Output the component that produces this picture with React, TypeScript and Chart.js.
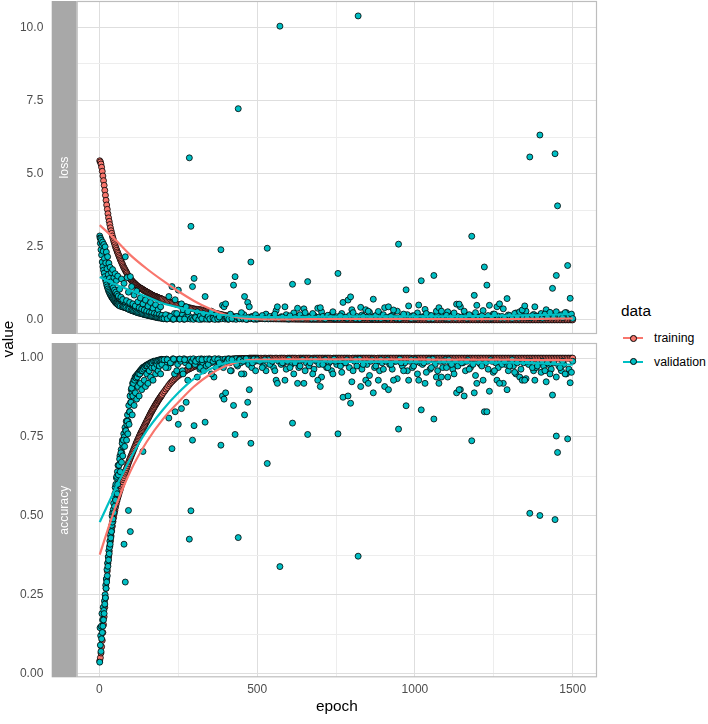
import React, { useEffect, useRef } from 'react';
import { Chart, registerables } from 'chart.js';

Chart.register(...registerables);

const FONT = "'Liberation Sans', Arial, Helvetica, sans-serif";
const TRAIN_COLOR = '#F8766D';
const VAL_COLOR = '#00BFC4';

// ---------- data ----------
const seriesNames = ['training', 'validation'];
const panelNames = ['loss', 'accuracy'];

const trainEpochs = [
  1, 3, 5, 7, 9, 11, 13, 15, 17, 19, 21, 23, 25, 27, 29, 31, 33, 35, 37, 39, 41, 43, 45, 47, 49, 51, 53, 55, 57, 59,
  61, 63, 65, 67, 69, 71, 73, 75, 77, 79, 81, 83, 85, 87, 89, 91, 93, 95, 97, 99,
  101, 103, 105, 107, 109, 111, 113, 115, 117, 119, 121, 123, 125, 127, 129, 131, 133, 135, 137, 139,
  141, 143, 145, 147, 149, 151, 153, 155, 157, 159, 161, 163, 165, 167, 169, 171, 173, 175, 177, 179,
  181, 183, 185, 187, 189, 191, 193, 195, 197, 199,
  203, 207, 211, 215, 219, 223, 227, 231, 235, 239, 243, 247, 251, 255, 259, 263, 267, 271, 275, 279,
  283, 287, 291, 295, 299, 303, 307, 311, 315, 319, 323, 327, 331, 335, 339, 343, 347, 351, 355, 359,
  363, 367, 371, 375, 379, 383, 387, 391, 395, 399, 403, 407, 411, 415, 419, 423, 427, 431, 435, 439,
  443, 447, 451, 455, 459, 463, 467, 471, 475, 479, 483, 487, 491, 495, 499, 503,
  507, 512, 517, 522, 527, 532, 537, 542, 547, 552, 557, 562, 567, 572, 577, 582, 587, 592, 597, 602,
  607, 612, 617, 622, 627, 632, 637, 642, 647, 652, 657, 662, 667, 672, 677, 682, 687, 692, 697, 702,
  707, 712, 717, 722, 727, 732, 737, 742, 747, 752, 757, 762, 767, 772, 777, 782, 787, 792, 797, 802,
  807, 812, 817, 822, 827, 832, 837, 842, 847, 852, 857, 862, 867, 872, 877, 882, 887, 892, 897, 902,
  907, 912, 917, 922, 927, 932, 937, 942, 947, 952, 957, 962, 967, 972, 977, 982, 987, 992, 997, 1002,
  1007, 1012, 1017, 1022, 1027, 1032, 1037, 1042, 1047, 1052, 1057, 1062, 1067, 1072, 1077, 1082, 1087, 1092, 1097, 1102,
  1107, 1112, 1117, 1122, 1127, 1132, 1137, 1142, 1147, 1152, 1157, 1162, 1167, 1172, 1177, 1182, 1187, 1192, 1197, 1202,
  1207, 1212, 1217, 1222, 1227, 1232, 1237, 1242, 1247, 1252, 1257, 1262, 1267, 1272, 1277, 1282, 1287, 1292, 1297, 1302,
  1307, 1312, 1317, 1322, 1327, 1332, 1337, 1342, 1347, 1352, 1357, 1362, 1367, 1372, 1377, 1382, 1387, 1392, 1397, 1402,
  1407, 1412, 1417, 1422, 1427, 1432, 1437, 1442, 1447, 1452, 1457, 1462, 1467, 1472, 1477, 1482, 1487, 1492, 1497, 1500,
];

const trainLoss = [
  5.44, 5.40, 5.33, 5.22, 5.08, 4.92, 4.76, 4.60, 4.43, 4.26, 4.09, 3.93, 3.78, 3.63, 3.49, 3.37, 3.26, 3.15, 3.05, 2.96,
  2.87, 2.79, 2.71, 2.64, 2.57, 2.50, 2.44, 2.38, 2.32, 2.27,
  2.21, 2.16, 2.10, 2.05, 2.00, 1.95, 1.90, 1.85, 1.80, 1.76,
  1.72, 1.68, 1.64, 1.60, 1.55, 1.51, 1.47, 1.44, 1.41, 1.39,
  1.36, 1.34, 1.31, 1.29, 1.27, 1.25, 1.23, 1.21, 1.19, 1.17,
  1.15, 1.14, 1.12, 1.11, 1.09, 1.08, 1.07, 1.06, 1.04, 1.03,
  1.01, 1.00, 0.99, 0.98, 0.96, 0.95, 0.94, 0.93, 0.91, 0.90,
  0.89, 0.88, 0.86, 0.85, 0.84, 0.83, 0.82, 0.81, 0.80, 0.80,
  0.79, 0.78, 0.77, 0.76, 0.75, 0.74, 0.73, 0.73, 0.72, 0.71,
  0.69, 0.67, 0.66, 0.64, 0.62, 0.61, 0.59, 0.58, 0.57, 0.56,
  0.54, 0.53, 0.52, 0.51, 0.49, 0.48, 0.46, 0.45, 0.44, 0.43,
  0.42, 0.41, 0.40, 0.39, 0.38, 0.37, 0.365, 0.36, 0.355, 0.35,
  0.34, 0.33, 0.32, 0.31, 0.30, 0.29, 0.28, 0.27, 0.26, 0.25,
  0.24, 0.23, 0.22, 0.21, 0.20, 0.19, 0.18, 0.17, 0.16, 0.15,
  0.14, 0.13, 0.125, 0.12, 0.115, 0.11, 0.105, 0.10, 0.095, 0.09,
  0.085, 0.08, 0.075, 0.07, 0.07, 0.068, 0.065, 0.06, 0.06, 0.058,
  0.055, 0.053, 0.05, 0.05, 0.049, 0.048,
  0.047, 0.046, 0.045, 0.044, 0.043, 0.042, 0.041, 0.040, 0.039, 0.038,
  0.037, 0.036, 0.036, 0.035, 0.034, 0.033, 0.033, 0.032, 0.031, 0.031,
  0.030, 0.029, 0.029, 0.028, 0.028, 0.027, 0.027, 0.026, 0.026, 0.025,
  0.025, 0.024, 0.024, 0.023, 0.023, 0.023, 0.022, 0.022, 0.021, 0.021,
  0.021, 0.020, 0.020, 0.020, 0.019, 0.019, 0.019, 0.018, 0.018, 0.018,
  0.017, 0.017, 0.017, 0.017, 0.016, 0.016, 0.016, 0.016, 0.015, 0.015,
  0.015, 0.015, 0.014, 0.014, 0.014, 0.014, 0.014, 0.013, 0.013, 0.013,
  0.013, 0.013, 0.012, 0.012, 0.012, 0.012, 0.012, 0.012, 0.011, 0.011,
  0.011, 0.011, 0.011, 0.011, 0.011, 0.010, 0.010, 0.010, 0.010, 0.010,
  0.010, 0.010, 0.010, 0.009, 0.009, 0.009, 0.009, 0.009, 0.009, 0.009,
  0.009, 0.009, 0.008, 0.008, 0.008, 0.008, 0.008, 0.008, 0.008, 0.008,
  0.008, 0.008, 0.008, 0.007, 0.007, 0.007, 0.007, 0.007, 0.007, 0.007,
  0.007, 0.007, 0.007, 0.007, 0.007, 0.007, 0.006, 0.006, 0.006, 0.006,
  0.006, 0.006, 0.006, 0.006, 0.006, 0.006, 0.006, 0.006, 0.006, 0.006,
  0.006, 0.006, 0.005, 0.005, 0.005, 0.005, 0.005, 0.005, 0.005, 0.005,
  0.005, 0.005, 0.005, 0.005, 0.005, 0.005, 0.005, 0.005, 0.005, 0.005,
  0.005, 0.005, 0.005, 0.005, 0.005, 0.004, 0.004, 0.004, 0.004, 0.004,
  0.004, 0.004, 0.004, 0.004, 0.004, 0.004, 0.004, 0.004, 0.004, 0.004,
  0.004, 0.004, 0.004, 0.004, 0.004, 0.004, 0.004, 0.004, 0.004, 0.004,
  0.004, 0.004, 0.004, 0.004, 0.004, 0.004, 0.004, 0.004, 0.004, 0.004,
];

const trainAcc = [
  0.040, 0.050, 0.065, 0.085, 0.105, 0.130, 0.155, 0.180, 0.210, 0.240, 0.270, 0.300, 0.325, 0.350, 0.370,
  0.388, 0.404, 0.420, 0.436, 0.452, 0.467, 0.482, 0.495, 0.507, 0.517, 0.527, 0.537, 0.546, 0.553, 0.560,
  0.567, 0.574, 0.580, 0.587, 0.594, 0.600, 0.608, 0.615, 0.621, 0.628,
  0.635, 0.641, 0.647, 0.653, 0.659, 0.665, 0.671, 0.676, 0.681, 0.686,
  0.691, 0.696, 0.701, 0.706, 0.711, 0.716, 0.721, 0.726, 0.731, 0.735,
  0.740, 0.744, 0.749, 0.753, 0.758, 0.762, 0.766, 0.770, 0.774, 0.778,
  0.782, 0.786, 0.790, 0.794, 0.798, 0.802, 0.806, 0.810, 0.814, 0.818,
  0.822, 0.826, 0.830, 0.833, 0.837, 0.840, 0.844, 0.847, 0.851, 0.854,
  0.857, 0.860, 0.864, 0.867, 0.870, 0.873, 0.876, 0.879, 0.882, 0.885,
  0.891, 0.896, 0.902, 0.907, 0.913, 0.918, 0.923, 0.927, 0.931, 0.935,
  0.939, 0.942, 0.945, 0.948, 0.951, 0.953, 0.956, 0.958, 0.961, 0.963,
  0.965, 0.967, 0.969, 0.971, 0.973, 0.975, 0.977, 0.978, 0.980, 0.981,
  0.982, 0.983, 0.984, 0.985, 0.986, 0.987, 0.988, 0.989, 0.990, 0.990,
  0.991, 0.991, 0.992, 0.992, 0.993, 0.993, 0.994, 0.994, 0.995, 0.995,
  0.996, 0.996, 0.997, 0.997, 0.997, 0.997, 0.998, 0.998, 0.998, 0.998,
  0.999, 0.999, 0.999, 0.999, 0.999, 0.999, 0.999, 0.999, 1.000, 1.000,
  1.000, 1.000, 1.000, 1.000, 1.000, 1.000,
  0.999, 1.000, 0.999, 1.000, 1.000, 0.999, 1.000, 1.000, 1.000, 0.999,
  1.000, 1.000, 0.999, 1.000, 1.000, 1.000, 1.000, 0.999, 1.000, 1.000,
  1.000, 1.000, 1.000, 1.000, 0.999, 1.000, 1.000, 1.000, 1.000, 1.000,
  1.000, 1.000, 1.000, 0.999, 1.000, 1.000, 1.000, 1.000, 1.000, 1.000,
  1.000, 1.000, 1.000, 1.000, 1.000, 1.000, 0.999, 1.000, 1.000, 1.000,
  1.000, 1.000, 1.000, 1.000, 1.000, 1.000, 1.000, 1.000, 0.999, 1.000,
  1.000, 1.000, 1.000, 1.000, 1.000, 1.000, 1.000, 1.000, 1.000, 1.000,
  1.000, 1.000, 1.000, 1.000, 0.999, 1.000, 1.000, 1.000, 1.000, 1.000,
  1.000, 1.000, 1.000, 1.000, 1.000, 1.000, 1.000, 1.000, 1.000, 1.000,
  1.000, 1.000, 1.000, 1.000, 1.000, 1.000, 1.000, 0.999, 1.000, 1.000,
  1.000, 1.000, 1.000, 1.000, 1.000, 1.000, 1.000, 1.000, 1.000, 1.000,
  1.000, 1.000, 1.000, 1.000, 1.000, 1.000, 1.000, 1.000, 1.000, 1.000,
  1.000, 1.000, 1.000, 1.000, 1.000, 1.000, 1.000, 1.000, 1.000, 1.000,
  1.000, 1.000, 1.000, 1.000, 1.000, 1.000, 1.000, 1.000, 1.000, 1.000,
  1.000, 1.000, 1.000, 1.000, 1.000, 1.000, 1.000, 1.000, 1.000, 1.000,
  1.000, 1.000, 1.000, 1.000, 1.000, 1.000, 1.000, 1.000, 1.000, 1.000,
  1.000, 1.000, 1.000, 1.000, 1.000, 1.000, 1.000, 1.000, 1.000, 1.000,
  1.000, 1.000, 1.000, 1.000, 1.000, 1.000, 1.000, 1.000, 1.000, 1.000,
  1.000, 1.000, 1.000, 1.000, 1.000, 1.000, 1.000, 1.000, 1.000, 1.000,
  1.000, 1.000, 1.000, 1.000, 1.000, 1.000, 1.000, 1.000, 1.000, 1.000,
];

// validation epochs: dense cloud near the main trend
const valDenseEpochs = [
  61, 63, 65, 67, 69, 71, 73, 75, 77, 79, 81, 83, 85, 87, 89, 91, 93, 95, 97, 99,
  101, 103, 105, 107, 109, 111, 113, 115, 117, 119, 121, 123, 125, 127, 129, 131, 133, 135, 137, 139,
  141, 143, 145, 147, 149, 151, 153, 155, 157, 159, 161, 163, 165, 167, 169, 171, 173, 175, 177, 179,
  181, 183, 185, 187, 189, 191, 193, 195, 197, 199,
  203, 208, 213, 218, 223, 228, 233, 238, 243, 248,
  253, 258, 263, 268, 273, 278, 283, 288, 293, 298,
  303, 308, 313, 318, 323, 328, 333, 338, 343, 348,
  353, 358, 363, 368, 373, 378, 383, 388, 393, 398,
  403, 408, 413, 418, 423, 428, 433, 438, 443, 448,
  453, 458, 463, 468, 473, 478, 483, 488, 493, 498,
  512, 520, 528, 536, 544, 552, 560, 568, 576, 584,
  592, 600, 608, 616, 624, 632, 640, 648, 656, 664,
  672, 680, 688, 696, 704, 712, 720, 728, 736, 744,
  752, 760, 768, 776, 784, 792, 800, 808, 816, 824,
  832, 840, 848, 856, 864, 872, 880, 888, 896, 904,
  912, 920, 928, 936, 944, 952, 960, 968, 976, 984,
  992, 1000, 1008, 1016, 1024, 1032, 1040, 1048, 1056, 1064,
  1072, 1080, 1088, 1096, 1104, 1112, 1120, 1128, 1136, 1144,
  1152, 1160, 1168, 1176, 1184, 1192, 1200, 1208, 1216, 1224,
  1232, 1240, 1248, 1256, 1264, 1272, 1280, 1288, 1296, 1304,
  1312, 1320, 1328, 1336, 1344, 1352, 1360, 1368, 1376, 1384,
  1392, 1400, 1408, 1416, 1424, 1432, 1440, 1448, 1456, 1464,
  1472, 1480, 1488, 1496,
];

const valDenseLoss = [
  0.52, 0.58, 0.50, 0.62, 0.48, 0.55, 0.46, 0.60, 0.44, 0.50,
  0.43, 0.56, 0.41, 0.47, 0.39, 0.52, 0.37, 0.43, 0.35, 0.48,
  0.34, 0.40, 0.32, 0.45, 0.31, 0.36, 0.29, 0.41, 0.28, 0.33,
  0.26, 0.38, 0.25, 0.30, 0.24, 0.34, 0.23, 0.27, 0.21, 0.31,
  0.20, 0.25, 0.19, 0.28, 0.18, 0.22, 0.17, 0.25, 0.16, 0.20,
  0.15, 0.22, 0.14, 0.18, 0.13, 0.19, 0.12, 0.16, 0.11, 0.17,
  0.10, 0.14, 0.09, 0.15, 0.08, 0.12, 0.08, 0.13, 0.07, 0.10,
  0.04, 0.10, 0.03, 0.15, 0.05, 0.08, 0.02, 0.22, 0.04, 0.12,
  0.03, 0.06, 0.18, 0.02, 0.09, 0.04, 0.14, 0.03, 0.07, 0.02,
  0.11, 0.04, 0.05, 0.16, 0.02, 0.08, 0.03, 0.12, 0.05, 0.02,
  0.09, 0.04, 0.20, 0.03, 0.06, 0.02, 0.10, 0.04, 0.13, 0.03,
  0.05, 0.02, 0.08, 0.15, 0.03, 0.06, 0.02, 0.11, 0.04, 0.07,
  0.03, 0.18, 0.05, 0.02, 0.09, 0.04, 0.12, 0.03, 0.06, 0.02,
  0.06, 0.12, 0.20, 0.04, 0.09, 0.15, 0.32, 0.05, 0.11, 0.08,
  0.18, 0.03, 0.10, 0.24, 0.06, 0.14, 0.05, 0.38, 0.09, 0.12,
  0.04, 0.16, 0.07, 0.10, 0.28, 0.05, 0.13, 0.08, 0.19, 0.04,
  0.11, 0.06, 0.22, 0.09, 0.05, 0.15, 0.35, 0.07, 0.12, 0.04,
  0.17, 0.08, 0.10, 0.26, 0.05, 0.13, 0.06, 0.20, 0.09, 0.42,
  0.05, 0.11, 0.16, 0.07, 0.30, 0.04, 0.12, 0.09, 0.18, 0.06,
  0.14, 0.05, 0.24, 0.08, 0.11, 0.36, 0.06, 0.15, 0.04, 0.10,
  0.20, 0.07, 0.13, 0.05, 0.28, 0.09, 0.16, 0.06, 0.12, 0.45,
  0.08, 0.18, 0.05, 0.14, 0.10, 0.25, 0.06, 0.11, 0.32, 0.07,
  0.15, 0.05, 0.20, 0.09, 0.13, 0.06, 0.38, 0.10, 0.17, 0.08,
  0.12, 0.24, 0.06, 0.16, 0.09, 0.30, 0.11, 0.07, 0.19, 0.14,
  0.08, 0.22, 0.12, 0.35, 0.10, 0.16, 0.09, 0.28, 0.13, 0.18,
  0.11, 0.25, 0.15, 0.20,
];

const valDenseAcc = [
  0.66, 0.64, 0.69, 0.67, 0.71, 0.70, 0.74, 0.72, 0.76, 0.75,
  0.78, 0.77, 0.80, 0.79, 0.82, 0.80, 0.85, 0.83, 0.88, 0.86,
  0.90, 0.89, 0.92, 0.90, 0.93, 0.92, 0.94, 0.93, 0.945, 0.94,
  0.95, 0.945, 0.955, 0.95, 0.96, 0.955, 0.965, 0.96, 0.97, 0.965,
  0.972, 0.968, 0.975, 0.97, 0.978, 0.975, 0.98, 0.978, 0.982, 0.98,
  0.985, 0.982, 0.986, 0.984, 0.988, 0.985, 0.99, 0.987, 0.99, 0.988,
  0.992, 0.99, 0.993, 0.991, 0.994, 0.992, 0.995, 0.993, 0.996, 0.994,
  0.995, 0.985, 0.997, 0.97, 0.99, 0.985, 0.998, 0.95, 0.995, 0.98,
  0.997, 0.99, 0.96, 0.998, 0.985, 0.995, 0.975, 0.997, 0.99, 0.998,
  0.98, 0.995, 0.99, 0.965, 0.998, 0.985, 0.997, 0.975, 0.99, 0.998,
  0.985, 0.995, 0.94, 0.997, 0.99, 0.998, 0.98, 0.995, 0.97, 0.997,
  0.99, 0.998, 0.985, 0.96, 0.997, 0.99, 0.998, 0.975, 0.995, 0.985,
  0.997, 0.95, 0.99, 0.998, 0.98, 0.995, 0.97, 0.997, 0.99, 0.998,
  0.99, 0.975, 0.96, 0.995, 0.985, 0.97, 0.93, 0.99, 0.98, 0.985,
  0.965, 0.997, 0.98, 0.95, 0.99, 0.97, 0.995, 0.92, 0.985, 0.975,
  0.995, 0.965, 0.99, 0.98, 0.94, 0.995, 0.97, 0.985, 0.96, 0.997,
  0.98, 0.99, 0.955, 0.985, 0.995, 0.97, 0.925, 0.99, 0.975, 0.997,
  0.965, 0.985, 0.98, 0.945, 0.995, 0.97, 0.99, 0.96, 0.985, 0.91,
  0.995, 0.98, 0.965, 0.99, 0.935, 0.997, 0.975, 0.985, 0.96, 0.99,
  0.97, 0.995, 0.95, 0.985, 0.98, 0.92, 0.99, 0.965, 0.997, 0.98,
  0.96, 0.99, 0.97, 0.995, 0.94, 0.985, 0.965, 0.99, 0.975, 0.90,
  0.985, 0.96, 0.995, 0.97, 0.98, 0.945, 0.99, 0.98, 0.93, 0.985,
  0.965, 0.995, 0.955, 0.985, 0.97, 0.99, 0.92, 0.98, 0.96, 0.985,
  0.975, 0.95, 0.99, 0.965, 0.985, 0.935, 0.98, 0.99, 0.96, 0.97,
  0.985, 0.955, 0.975, 0.925, 0.98, 0.965, 0.985, 0.94, 0.975, 0.96,
  0.98, 0.95, 0.965, 0.955,
];

// validation epochs: main scatter incl. outliers
const valEpochs = [
  1, 2, 3, 4, 5, 6, 7, 8, 9, 10, 11, 12, 13, 14, 15, 16, 17, 18, 19, 20,
  21, 22, 23, 24, 25, 26, 27, 28, 29, 30, 31, 32, 33, 34, 35, 36, 37, 38, 39, 40,
  41, 42, 43, 44, 45, 46, 47, 48, 49, 50, 51, 52, 53, 54, 55, 56, 57, 58, 59, 60,
  62, 64, 66, 68, 70, 72, 74, 76, 78, 80, 82, 84, 86, 88, 90, 92, 94, 96, 98, 100,
  102, 104, 106, 108, 110, 112, 114, 116, 118, 120, 122, 124, 126, 128, 130, 132, 134, 136, 138, 140,
  142, 144, 146, 148, 150, 152, 154, 156, 158, 160, 162, 164, 166, 168, 170, 172, 174, 176, 178, 180,
  182, 184, 186, 188, 190, 192, 194, 196, 198, 200,
  205, 210, 215, 220, 225, 230, 235, 240, 245, 250, 255, 260, 265, 270, 275, 280, 285, 290, 295, 300,
  305, 310, 315, 320, 325, 330, 335, 340, 345, 350, 355, 360, 365, 370, 375, 380, 385, 390, 395, 400,
  405, 410, 415, 420, 425, 430, 435, 440, 445, 450, 455, 460, 465, 470, 475, 480, 485, 490, 495, 500,
  508, 516, 524, 532, 540, 548, 556, 564, 572, 580,
  588, 596, 604, 612, 620, 628, 636, 644, 652, 660,
  668, 676, 684, 692, 700, 708, 716, 724, 732, 740,
  748, 756, 764, 772, 780, 788, 796, 804, 812, 820,
  828, 836, 844, 852, 860, 868, 876, 884, 892, 900,
  908, 916, 924, 932, 940, 948, 956, 964, 972, 980,
  988, 996, 1004, 1012, 1020, 1028, 1036, 1044, 1052, 1060,
  1068, 1076, 1084, 1092, 1100, 1108, 1116, 1124, 1132, 1140,
  1148, 1156, 1164, 1172, 1180, 1188, 1196, 1204, 1212, 1220,
  1228, 1236, 1244, 1252, 1260, 1268, 1276, 1284, 1292, 1300,
  1308, 1316, 1324, 1332, 1340, 1348, 1356, 1364, 1372, 1380,
  1388, 1396, 1404, 1412, 1420, 1428, 1436, 1444, 1448, 1452,
  1460, 1468, 1476, 1484, 1492, 1500,
];

const valLoss = [
  2.87, 2.80, 2.62, 2.78, 2.40, 2.72, 2.22, 2.55, 1.98, 2.66,
  1.82, 2.35, 1.70, 2.58, 1.60, 2.10, 1.48, 2.50, 1.38, 1.95,
  1.30, 2.32, 1.20, 1.75, 1.13, 2.16, 1.06, 1.55, 1.00, 1.94,
  0.95, 1.42, 0.90, 1.80, 0.86, 1.30, 0.82, 1.62, 0.78, 1.18,
  0.75, 1.72, 0.72, 1.10, 0.69, 1.45, 0.66, 1.02, 0.63, 1.58,
  0.60, 0.95, 0.58, 1.35, 0.56, 0.88, 0.54, 1.50, 0.52, 0.82,
  0.49, 1.05, 0.47, 0.78, 1.40, 0.45, 0.70, 0.44, 1.25, 0.43,
  2.16, 0.41, 0.66, 1.45, 0.38, 0.95, 0.36, 0.60, 1.48, 0.33,
  1.14, 0.32, 0.55, 0.30, 0.85, 0.29, 0.48, 0.27, 0.99, 0.25,
  0.62, 0.24, 0.42, 0.23, 0.75, 0.22, 0.38, 0.21, 0.55, 0.19,
  0.34, 0.18, 0.68, 0.17, 0.30, 0.16, 0.47, 0.15, 0.26, 0.14,
  0.60, 0.13, 0.25, 0.12, 0.40, 0.11, 0.22, 0.10, 0.52, 0.09,
  0.20, 0.08, 0.35, 0.07, 0.18, 0.07, 0.45, 0.06, 0.16, 0.05,
  0.05, 0.18, 0.04, 0.80, 0.12, 1.14, 0.03, 0.69, 0.22, 1.02,
  0.03, 0.55, 0.35, 0.03, 0.45, 0.28, 5.54, 3.20, 1.14, 1.42,
  0.08, 0.28, 0.02, 0.14, 0.05, 0.22, 0.80, 0.03, 0.12, 0.04,
  0.30, 0.06, 0.02, 0.18, 0.04, 0.10, 2.40, 0.50, 0.45, 0.55,
  0.08, 0.03, 0.20, 0.05, 1.19, 1.48, 0.12, 7.22, 0.04, 0.25,
  0.06, 0.80, 0.02, 0.60, 0.45, 1.98, 0.10, 0.03, 0.18, 0.05,
  0.08, 0.15, 0.04, 2.45, 0.12, 0.06, 0.20, 0.45, 10.04, 0.10,
  0.45, 0.05, 0.14, 1.22, 0.08, 0.40, 0.18, 0.06, 0.25, 1.31,
  0.10, 0.22, 0.05, 0.40, 0.42, 0.12, 0.04, 0.16, 0.08, 0.28,
  0.06, 1.59, 0.14, 0.60, 0.09, 0.68, 0.79, 0.25, 0.05, 10.39,
  0.43, 0.12, 0.35, 0.30, 0.07, 0.71, 0.15, 0.29, 0.05, 0.18,
  0.08, 0.45, 0.12, 0.34, 0.06, 2.59, 0.10, 0.20, 1.03, 0.48,
  0.05, 0.14, 0.07, 0.51, 1.34, 0.10, 0.22, 0.05, 0.15, 1.52,
  0.30, 0.42, 0.30, 0.08, 0.16, 0.05, 0.12, 0.24, 0.54, 0.54,
  0.10, 0.30, 0.06, 0.18, 2.86, 0.84, 0.50, 0.09, 0.14, 1.81,
  1.19, 0.50, 0.07, 0.20, 0.45, 0.55, 0.12, 0.06, 0.73, 0.15,
  0.05, 0.22, 0.10, 0.28, 0.34, 0.48, 0.08, 5.57, 0.15, 0.45,
  0.12, 6.32, 0.06, 0.20, 0.09, 0.26, 1.08, 5.68, 1.52, 3.90,
  0.14, 0.08, 0.25, 1.86, 0.74, 0.05,
];

const valAcc = [
  0.036, 0.145, 0.09, 0.12, 0.07, 0.15, 0.11, 0.19, 0.13, 0.17,
  0.15, 0.21, 0.17, 0.20, 0.19, 0.23, 0.22, 0.25, 0.24, 0.28,
  0.27, 0.30, 0.29, 0.33, 0.31, 0.35, 0.34, 0.37, 0.36, 0.39,
  0.38, 0.40, 0.42, 0.41, 0.44, 0.43, 0.46, 0.45, 0.47, 0.50,
  0.48, 0.51, 0.49, 0.52, 0.54, 0.51, 0.56, 0.53, 0.57, 0.59,
  0.55, 0.60, 0.58, 0.62, 0.625, 0.57, 0.64, 0.60, 0.66, 0.63,
  0.66, 0.68, 0.64, 0.70, 0.67, 0.73, 0.69, 0.74, 0.41, 0.72,
  0.29, 0.77, 0.74, 0.80, 0.76, 0.517, 0.79, 0.83, 0.45, 0.86,
  0.905, 0.82, 0.88, 0.92, 0.85, 0.93, 0.89, 0.937, 0.87, 0.94,
  0.91, 0.95, 0.88, 0.95, 0.92, 0.96, 0.90, 0.96, 0.704, 0.965,
  0.93, 0.97, 0.91, 0.975, 0.95, 0.975, 0.92, 0.98, 0.96, 0.98,
  0.94, 0.985, 0.97, 0.985, 0.93, 0.99, 0.97, 0.99, 0.95, 0.99,
  0.98, 0.99, 0.96, 0.993, 0.975, 0.993, 0.95, 0.995, 0.98, 0.995,
  0.995, 0.97, 0.995, 0.81, 0.985, 0.713, 0.997, 0.83, 0.96, 0.79,
  0.997, 0.84, 0.95, 0.995, 0.86, 0.93, 0.426, 0.516, 0.74, 0.786,
  0.99, 0.94, 0.997, 0.97, 0.995, 0.96, 0.797, 0.997, 0.98, 0.995,
  0.95, 0.99, 0.998, 0.97, 0.995, 0.985, 0.724, 0.88, 0.87, 0.89,
  0.99, 0.997, 0.96, 0.995, 0.85, 0.758, 0.98, 0.431, 0.995, 0.95,
  0.99, 0.82, 0.998, 0.86, 0.90, 0.73, 0.985, 0.997, 0.96, 0.995,
  0.99, 0.97, 0.995, 0.666, 0.98, 0.99, 0.96, 0.92, 0.339, 0.985,
  0.93, 0.99, 0.97, 0.794, 0.985, 0.92, 0.975, 0.995, 0.96, 0.758,
  0.985, 0.95, 0.995, 0.93, 0.91, 0.98, 0.995, 0.97, 0.99, 0.95,
  0.99, 0.76, 0.975, 0.876, 0.985, 0.88, 0.857, 0.96, 0.995, 0.372,
  0.91, 0.98, 0.93, 0.92, 0.99, 0.89, 0.975, 0.93, 0.995, 0.965,
  0.99, 0.90, 0.98, 0.93, 0.99, 0.775, 0.985, 0.96, 0.849, 0.93,
  0.995, 0.975, 0.99, 0.93, 0.836, 0.985, 0.955, 0.995, 0.97, 0.807,
  0.94, 0.92, 0.94, 0.99, 0.97, 0.995, 0.98, 0.95, 0.89, 0.90,
  0.985, 0.88, 0.99, 0.965, 0.738, 0.89, 0.92, 0.985, 0.975, 0.83,
  0.83, 0.895, 0.99, 0.96, 0.93, 0.92, 0.98, 0.99, 0.90, 0.975,
  0.995, 0.955, 0.985, 0.94, 0.93, 0.93, 0.99, 0.508, 0.97, 0.93,
  0.975, 0.501, 0.99, 0.96, 0.985, 0.95, 0.883, 0.488, 0.753, 0.701,
  0.97, 0.99, 0.95, 0.744, 0.922, 0.99,
];

// smoothed trend
const smoothEpochs = [1, 50, 100, 150, 200, 250, 300, 350, 400, 450, 500, 600, 700, 800, 900, 1000, 1100, 1200, 1300, 1400, 1500];
const trainLossSmooth = [3.24, 2.75, 2.2, 1.75, 1.35, 0.98, 0.65, 0.38, 0.18, 0.07, 0.03, 0.02, 0.03, 0.04, 0.04, 0.03, 0.03, 0.03, 0.03, 0.04, 0.05];
const valLossSmooth = [1.47, 1.22, 1.0, 0.79, 0.57, 0.43, 0.31, 0.22, 0.16, 0.12, 0.1, 0.1, 0.11, 0.12, 0.12, 0.12, 0.12, 0.13, 0.15, 0.17, 0.2];
const trainAccSmooth = [0.377, 0.525, 0.645, 0.735, 0.805, 0.86, 0.91, 0.948, 0.975, 0.99, 0.995, 0.996, 0.996, 0.996, 0.996, 0.996, 0.995, 0.995, 0.995, 0.994, 0.994];
const valAccSmooth = [0.48, 0.585, 0.685, 0.77, 0.835, 0.89, 0.935, 0.965, 0.985, 0.99, 0.99, 0.99, 0.989, 0.988, 0.988, 0.987, 0.987, 0.986, 0.986, 0.983, 0.979];

// axes
const xMajorTicks = [0, 500, 1000, 1500];
const xTickLabels = ['0', '500', '1000', '1500'];
const xMinorTicks = [250, 750, 1250];
const lossMajorTicks = [0, 2.5, 5, 7.5, 10];
const lossTickLabels = ['0.0', '2.5', '5.0', '7.5', '10.0'];
const lossMinorTicks = [1.25, 3.75, 6.25, 8.75];
const accMajorTicks = [0, 0.25, 0.5, 0.75, 1];
const accTickLabels = ['0.00', '0.25', '0.50', '0.75', '1.00'];
const accMinorTicks = [0.125, 0.375, 0.625, 0.875];
const epochLimits = [-72, 1577];
const lossLimits = [-0.48, 10.9];
const accLimits = [-0.012, 1.048];

// ---------- helpers ----------
const toPoints = (xs: number[], ys: number[]) => xs.map((x, i) => ({ x, y: ys[i] }));

const findIdx = (arr: number[], v: number) => arr.findIndex((a) => Math.abs(a - v) < 1e-6);

const panelDecor = {
  id: 'panelDecor',
  afterDraw(chart: any, _args: any, opts: any) {
    const { ctx, chartArea: a } = chart;
    ctx.save();
    ctx.fillStyle = '#A8A8A8';
    ctx.fillRect(a.left - 25, a.top, 25, a.bottom - a.top);
    ctx.strokeStyle = '#BDBDBD';
    ctx.lineWidth = 1.2;
    ctx.strokeRect(a.left + 0.5, a.top + 0.5, a.right - a.left - 1, a.bottom - a.top - 1);
    ctx.translate(a.left - 12.5, (a.top + a.bottom) / 2);
    ctx.rotate(-Math.PI / 2);
    ctx.fillStyle = '#FFFFFF';
    ctx.font = `12.3px ${FONT}`;
    ctx.textAlign = 'center';
    ctx.textBaseline = 'middle';
    ctx.fillText(opts.text, 0, 0);
    ctx.restore();
  },
};

function gridOpts(major: number[]) {
  return {
    drawTicks: false,
    color: (c: any) => (c.tick && findIdx(major, c.tick.value) >= 0 ? '#DEDEDE' : '#EDEDED'),
    lineWidth: 1,
  };
}

function makeConfig(p: {
  trainVals: number[];
  valDenseVals: number[];
  valVals: number[];
  trainSmooth: number[];
  valSmooth: number[];
  yLimits: number[];
  yMajor: number[];
  yMinor: number[];
  yLabels: string[];
  strip: string;
  showX: boolean;
}): any {
  const pointStyle = {
    pointRadius: 3,
    pointBorderWidth: 0.8,
    pointBorderColor: '#000000',
    showLine: false,
  };
  return {
    type: 'scatter',
    data: {
      datasets: [
        {
          label: seriesNames[0],
          data: toPoints(trainEpochs, p.trainVals),
          pointBackgroundColor: TRAIN_COLOR,
          order: 4,
          ...pointStyle,
        },
        {
          label: seriesNames[1],
          data: [...toPoints(valDenseEpochs, p.valDenseVals), ...toPoints(valEpochs, p.valVals)],
          pointBackgroundColor: VAL_COLOR,
          order: 3,
          ...pointStyle,
        },
        {
          label: seriesNames[0] + ' trend',
          data: toPoints(smoothEpochs, p.trainSmooth),
          showLine: true,
          pointRadius: 0,
          borderColor: TRAIN_COLOR,
          borderWidth: 2.2,
          cubicInterpolationMode: 'monotone',
          fill: false,
          order: 2,
        },
        {
          label: seriesNames[1] + ' trend',
          data: toPoints(smoothEpochs, p.valSmooth),
          showLine: true,
          pointRadius: 0,
          borderColor: VAL_COLOR,
          borderWidth: 2.2,
          cubicInterpolationMode: 'monotone',
          fill: false,
          order: 1,
        },
      ],
    },
    options: {
      animation: false,
      responsive: false,
      maintainAspectRatio: false,
      events: [],
      layout: { autoPadding: false, padding: { top: 1, right: 3, bottom: p.showX ? 0 : 2, left: 0 } },
      plugins: {
        legend: { display: false },
        tooltip: { enabled: false },
        panelDecor: { text: p.strip },
      },
      scales: {
        x: {
          type: 'linear',
          min: epochLimits[0],
          max: epochLimits[1],
          afterBuildTicks: (s: any) => {
            s.ticks = [...xMajorTicks, ...xMinorTicks].sort((a, b) => a - b).map((v) => ({ value: v }));
          },
          afterFit: (s: any) => {
            s.height = p.showX ? 46.7 : 0;
            s.paddingLeft = 0;
            s.paddingRight = 0;
            s.paddingTop = 0;
            s.paddingBottom = 0;
          },
          grid: gridOpts(xMajorTicks),
          border: { display: false },
          ticks: {
            display: p.showX,
            autoSkip: false,
            maxRotation: 0,
            padding: 5.3,
            color: '#4D4D4D',
            font: { size: 12, family: FONT },
            callback: (v: number) => {
              const i = findIdx(xMajorTicks, v);
              return i >= 0 ? xTickLabels[i] : '';
            },
          },
          title: {
            display: p.showX,
            text: 'epoch',
            color: '#000000',
            font: { size: 15.4, family: FONT },
            padding: { top: 0, bottom: 8 },
          },
        },
        y: {
          type: 'linear',
          min: p.yLimits[0],
          max: p.yLimits[1],
          afterBuildTicks: (s: any) => {
            s.ticks = [...p.yMajor, ...p.yMinor].sort((a, b) => a - b).map((v) => ({ value: v }));
          },
          afterFit: (s: any) => {
            s.width = 76.7;
            s.paddingTop = 0;
            s.paddingBottom = 0;
            s.paddingLeft = 0;
            s.paddingRight = 0;
          },
          grid: gridOpts(p.yMajor),
          border: { display: false },
          ticks: {
            autoSkip: false,
            padding: 33.4,
            color: '#4D4D4D',
            font: { size: 12, family: FONT },
            callback: (v: number) => {
              const i = findIdx(p.yMajor, v);
              return i >= 0 ? p.yLabels[i] : '';
            },
          },
        },
      },
    },
    plugins: [panelDecor],
  };
}

export default function App() {
  const lossRef = useRef<HTMLCanvasElement>(null);
  const accRef = useRef<HTMLCanvasElement>(null);

  useEffect(() => {
    const c1 = new Chart(
      lossRef.current as HTMLCanvasElement,
      makeConfig({
        trainVals: trainLoss,
        valDenseVals: valDenseLoss,
        valVals: valLoss,
        trainSmooth: trainLossSmooth,
        valSmooth: valLossSmooth,
        yLimits: lossLimits,
        yMajor: lossMajorTicks,
        yMinor: lossMinorTicks,
        yLabels: lossTickLabels,
        strip: panelNames[0],
        showX: false,
      })
    );
    const c2 = new Chart(
      accRef.current as HTMLCanvasElement,
      makeConfig({
        trainVals: trainAcc,
        valDenseVals: valDenseAcc,
        valVals: valAcc,
        trainSmooth: trainAccSmooth,
        valSmooth: valAccSmooth,
        yLimits: accLimits,
        yMajor: accMajorTicks,
        yMinor: accMinorTicks,
        yLabels: accTickLabels,
        strip: panelNames[1],
        showX: true,
      })
    );
    return () => {
      c1.destroy();
      c2.destroy();
    };
  }, []);

  const legendRows = [
    { name: seriesNames[0], color: TRAIN_COLOR, y: 338.3 },
    { name: seriesNames[1], color: VAL_COLOR, y: 361.7 },
  ];

  return (
    <div
      style={{
        position: 'absolute',
        left: 0,
        top: 0,
        width: 708,
        height: 724,
        background: '#FFFFFF',
        fontFamily: FONT,
        overflow: 'hidden',
      }}
    >
      <canvas
        ref={lossRef}
        width={600}
        height={336}
        style={{ position: 'absolute', left: 0, top: 0, width: 600, height: 336 }}
      />
      <canvas
        ref={accRef}
        width={600}
        height={382}
        style={{ position: 'absolute', left: 0, top: 342, width: 600, height: 382 }}
      />
      <div
        style={{
          position: 'absolute',
          left: 8 - 50,
          top: 339 - 9,
          width: 100,
          height: 18,
          lineHeight: '18px',
          fontSize: 15.4,
          textAlign: 'center',
          color: '#000000',
          transform: 'rotate(-90deg)',
          whiteSpace: 'nowrap',
        }}
      >
        value
      </div>
      <div
        style={{
          position: 'absolute',
          left: 621,
          top: 302.4,
          fontSize: 15.4,
          lineHeight: '18px',
          color: '#000000',
          whiteSpace: 'nowrap',
        }}
      >
        data
      </div>
      {legendRows.map((r) => (
        <React.Fragment key={r.name}>
          <div
            style={{
              position: 'absolute',
              left: 623.3,
              top: r.y - 1.1,
              width: 20,
              height: 2.2,
              background: r.color,
            }}
          />
          <div
            style={{
              position: 'absolute',
              left: 633.3 - 3.4,
              top: r.y - 3.4,
              width: 6.8,
              height: 6.8,
              boxSizing: 'border-box',
              borderRadius: '50%',
              border: '0.8px solid #000000',
              background: r.color,
            }}
          />
          <div
            style={{
              position: 'absolute',
              left: 654,
              top: r.y - 6.9,
              fontSize: 12.3,
              lineHeight: '14px',
              color: '#000000',
              whiteSpace: 'nowrap',
            }}
          >
            {r.name}
          </div>
        </React.Fragment>
      ))}
    </div>
  );
}
